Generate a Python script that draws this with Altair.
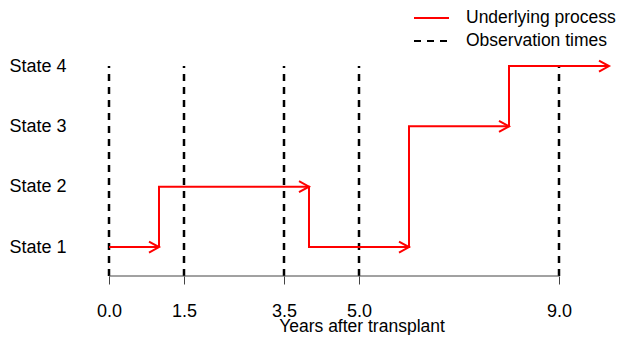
import altair as alt
import pandas as pd

# ---- data ----
jump_times = [0, 1, 4, 6, 8]
jump_states = [1, 2, 1, 3, 4]
end_time = 10
arrow_times = [1, 4, 6, 8, 10]
arrow_states = [1, 2, 1, 3, 4]
obs_times = [0.0, 1.5, 3.5, 5.0, 9.0]
state_values = [1, 2, 3, 4]
series_names = ["Underlying process", "Observation times"]
y_bottom = 0.52
y_top_obs = 4.0

FONT = "Liberation Sans"
FS = 18

step_df = pd.DataFrame({
    "t": jump_times + [end_time],
    "state": jump_states + [jump_states[-1]],
    "series": series_names[0],
})
arrow_df = pd.DataFrame({"t": arrow_times, "state": arrow_states})
obs_df = pd.DataFrame({"t": obs_times, "y0": y_bottom, "y1": y_top_obs,
                       "series": series_names[1]})
axis_df = pd.DataFrame({"t": [obs_times[0], obs_times[-1]], "yy": [y_bottom, y_bottom]})

xscale = alt.Scale(domain=[0, 10.1], nice=False, zero=False)
yscale = alt.Scale(domain=[y_bottom, 4.1], nice=False, zero=False)

legend_kw = dict(orient="none", legendX=311.5, legendY=-53, title=None,
                 labelFontSize=17.5, labelFont=FONT, labelColor="black",
                 symbolType="M -1.75 0 L 1.75 0", symbolSize=400,
                 symbolStrokeWidth=2, labelOffset=23.5, rowPadding=3)
color = alt.Color("series:N",
                  scale=alt.Scale(domain=series_names, range=["#ff0000", "#000000"]),
                  legend=alt.Legend(**legend_kw))
dash = alt.StrokeDash("series:N",
                      scale=alt.Scale(domain=series_names, range=[[1, 0], [7, 6]]),
                      legend=alt.Legend(**legend_kw))

x_axis = alt.Axis(values=obs_times, format=".1f", domain=False, domainOpacity=0,
                  tickSize=8, tickColor="#444444", labelFontSize=FS, labelFont=FONT,
                  labelColor="black", labelPadding=18, labelFlush=False, labelOverlap=False,
                  title="Years after transplant", titleFontSize=17.5, titleFont=FONT,
                  titleFontWeight="normal", titleColor="black", titlePadding=-3, grid=False)
y_axis = alt.Axis(values=state_values, labelExpr="'State ' + datum.value", domain=False,
                  domainOpacity=0, ticks=False, labelFontSize=FS, labelFont=FONT,
                  labelColor="black", labelPadding=43, title=None, grid=False)

obs = alt.Chart(obs_df).mark_rule(strokeWidth=2.5).encode(
    x=alt.X("t:Q", scale=xscale, axis=x_axis),
    y=alt.Y("y0:Q", scale=yscale, axis=y_axis),
    y2="y1:Q",
    color=color,
    strokeDash=dash,
)

axis_line = alt.Chart(axis_df).mark_line(color="#444444", strokeWidth=1).encode(
    x=alt.X("t:Q", scale=xscale, axis=x_axis),
    y=alt.Y("yy:Q", scale=yscale, axis=y_axis),
)

line = alt.Chart(step_df).mark_line(interpolate="step-after", strokeWidth=2).encode(
    x=alt.X("t:Q", scale=xscale, axis=x_axis),
    y=alt.Y("state:Q", scale=yscale, axis=y_axis),
    color=color,
    strokeDash=dash,
)

arrows = alt.Chart(arrow_df).mark_point(
    shape="M -1 -0.55 L 0 0 L -1 0.55", filled=False, size=400,
    strokeWidth=2, color="#ff0000", opacity=1,
).encode(
    x=alt.X("t:Q", scale=xscale, axis=x_axis),
    y=alt.Y("state:Q", scale=yscale, axis=y_axis),
)

chart = alt.layer(obs, axis_line, line, arrows).properties(
    width=505, height=216, autosize="none",
    padding={"left": 101, "top": 52, "right": 2, "bottom": 59},
).configure(font=FONT).configure_view(strokeWidth=0, stroke="transparent").configure_axis(
    grid=False, domain=False, domainOpacity=0).configure_axisX(domain=False, domainOpacity=0)

chart.save("out.html", embed_options={"renderer": "svg", "actions": False})
